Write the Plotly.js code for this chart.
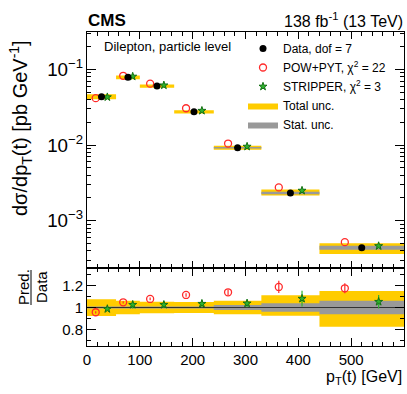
<!DOCTYPE html>
<html>
<head>
<meta charset="utf-8">
<script src="https://cdn.plot.ly/plotly-3.0.1.min.js"></script>
<style>html,body{margin:0;padding:0;background:#fff;} #chart{width:407px;height:394px;}</style>
</head>
<body>
<div id="chart"></div>
<script>
'use strict';

// bins of pT(t) in GeV
const binEdges = [0, 55, 100, 165, 240, 330, 440, 600];

// differential cross sections [pb/GeV]
const dataXsec = [0.0435, 0.0784, 0.0600, 0.0275, 0.0092, 0.00232, 0.00044];
const powXsec = [0.0416, 0.0821, 0.0646, 0.0306, 0.01046, 0.00275, 0.00052];
const stripXsec = [0.0429, 0.0804, 0.0615, 0.0284, 0.00954, 0.0025, 0.000463];

// relative uncertainties of the data
const totUp = [0.075, 0.06, 0.052, 0.05, 0.06, 0.11, 0.148];
const totDown = [0.077, 0.06, 0.052, 0.05, 0.06, 0.075, 0.173];
const statUnc = [0.008, 0.008, 0.008, 0.01, 0.022, 0.038, 0.06];

// prediction / data
const powRatio = [0.957, 1.047, 1.077, 1.113, 1.137, 1.185, 1.173];
const powRatioErr = [0.01, 0.01, 0.012, 0.015, 0.025, 0.055, 0.045];
const stripRatio = [0.987, 1.025, 1.025, 1.034, 1.037, 1.08, 1.052];
const stripRatioErr = [0.01, 0.035, 0.03, 0.035, 0.035, 0.07, 0.06];

const legendNames = ['Data, dof = 7', 'POW+PYT, \u03c7<sup>2</sup> = 22',
  'STRIPPER, \u03c7<sup>2</sup> = 3', 'Total unc.', 'Stat. unc.'];

const nb = dataXsec.length;
const centers = [], widths = [];
for (let i = 0; i < nb; i += 1) {
  centers.push((binEdges[i] + binEdges[i + 1]) / 2);
  widths.push(binEdges[i + 1] - binEdges[i]);
}
const powX = centers.map((c, i) => c - 0.2 * widths[i]);
const stripX = centers.map((c, i) => c + 0.2 * widths[i]);

// rectangles per bin, separated by gaps
function boxes(lo, hi) {
  const x = [], y = [];
  for (let i = 0; i < nb; i += 1) {
    x.push(binEdges[i], binEdges[i + 1], binEdges[i + 1], binEdges[i], binEdges[i], null);
    y.push(lo[i], lo[i], hi[i], hi[i], lo[i], null);
  }
  return {x, y};
}

const YELLOW = '#ffcc00';
const GREY = '#999999';
const RED = '#ff2a2a';
const GREEN = '#2db32d';

const totTop = boxes(dataXsec.map((d, i) => d * (1 - totDown[i])), dataXsec.map((d, i) => d * (1 + totUp[i])));
const statTop = boxes(dataXsec.map((d, i) => d * (1 - statUnc[i])), dataXsec.map((d, i) => d * (1 + statUnc[i])));
const totRat = boxes(totDown.map(v => 1 - v), totUp.map(v => 1 + v));
const statRat = boxes(statUnc.map(v => 1 - v), statUnc.map(v => 1 + v));

function band(b, color, name, rank, xa, ya, show) {
  return {
    x: b.x, y: b.y, xaxis: xa, yaxis: ya, type: 'scatter', mode: 'lines',
    fill: 'toself', fillcolor: color, line: {width: 0, color: color},
    name: name, legendrank: rank, showlegend: show, hoverinfo: 'skip'
  };
}

const redMarker = {symbol: 'circle-open', size: 7, color: RED, line: {width: 1.3, color: RED}};
const greenMarker = {symbol: 'star', size: 6, color: GREEN, line: {width: 1, color: '#137013'}};

const data = [
  band(totTop, YELLOW, legendNames[3], 4, 'x', 'y', true),
  band(statTop, GREY, legendNames[4], 5, 'x', 'y', true),
  band(totRat, YELLOW, legendNames[3], 4, 'x2', 'y2', false),
  band(statRat, GREY, legendNames[4], 5, 'x2', 'y2', false),
  {
    x: [binEdges[0], binEdges[nb]], y: [1, 1], xaxis: 'x2', yaxis: 'y2',
    type: 'scatter', mode: 'lines', line: {color: '#333333', width: 1.2},
    showlegend: false, hoverinfo: 'skip'
  },
  {
    x: powX, y: powXsec, type: 'scatter', mode: 'markers', name: legendNames[1],
    legendrank: 2, marker: redMarker
  },
  {
    x: stripX, y: stripXsec, type: 'scatter', mode: 'markers', name: legendNames[2],
    legendrank: 3, marker: greenMarker
  },
  {
    x: centers, y: dataXsec, type: 'scatter', mode: 'markers', name: legendNames[0],
    legendrank: 1, marker: {symbol: 'circle', size: 7, color: 'black'}
  },
  {
    x: powX, y: powRatio, xaxis: 'x2', yaxis: 'y2', type: 'scatter', mode: 'markers',
    error_y: {type: 'data', array: powRatioErr, color: RED, thickness: 1.2, width: 0},
    marker: redMarker, showlegend: false
  },
  {
    x: stripX, y: stripRatio, xaxis: 'x2', yaxis: 'y2', type: 'scatter', mode: 'markers',
    error_y: {type: 'data', array: stripRatioErr, color: GREEN, thickness: 1.2, width: 0},
    marker: greenMarker, showlegend: false
  }
];

// pixel -> paper helpers (plot area 87..404 x 32..346)
const X = px => (px - 87) / 317;
const Y = py => (346 - py) / 314;
const split = Y(268);

const axisBase = {
  showline: true, linecolor: 'black', linewidth: 1, mirror: 'ticks',
  ticks: 'inside', tickcolor: 'black', showgrid: false, zeroline: false
};

const layout = {
  width: 407, height: 394,
  margin: {l: 87, r: 3, t: 32, b: 48},
  paper_bgcolor: 'white', plot_bgcolor: 'white',
  font: {family: 'Liberation Sans, Arial, sans-serif', size: 15, color: 'black'},
  showlegend: true,
  legend: {
    x: X(243), y: Y(34), xanchor: 'left', yanchor: 'top',
    bgcolor: 'rgba(0,0,0,0)', font: {size: 12}, tracegroupgap: 0
  },
  xaxis: Object.assign({}, axisBase, {
    anchor: 'y', domain: [0, 1], range: [0, 600], matches: 'x2',
    showticklabels: false, dtick: 100, ticklen: 7,
    minor: {dtick: 20, ticks: 'inside', ticklen: 4, tickcolor: 'black'}
  }),
  yaxis: Object.assign({}, axisBase, {
    anchor: 'x', domain: [split, 1], type: 'log', range: [-3.625, -0.507],
    dtick: 1, exponentformat: 'power', ticklen: 9,
    minor: {dtick: 'D1', ticks: 'inside', ticklen: 4, tickcolor: 'black'}
  }),
  xaxis2: Object.assign({}, axisBase, {
    anchor: 'y2', domain: [0, 1], range: [0, 600], dtick: 100, ticklen: 8,
    minor: {dtick: 20, ticks: 'inside', ticklen: 4, tickcolor: 'black'}
  }),
  yaxis2: Object.assign({}, axisBase, {
    anchor: 'x2', domain: [0, split], range: [0.653, 1.356],
    tick0: 0, dtick: 0.2, ticklen: 9,
    minor: {dtick: 0.1, ticks: 'inside', ticklen: 4, tickcolor: 'black'}
  }),
  annotations: [
    {text: '<b>CMS</b>', xref: 'paper', yref: 'paper', x: X(86), y: Y(20), xanchor: 'left', yanchor: 'middle',
      showarrow: false, font: {size: 17}},
    {text: '138 fb<sup>-1</sup> (13 TeV)', xref: 'paper', yref: 'paper', x: X(405), y: Y(20), xanchor: 'right',
      yanchor: 'middle', showarrow: false, font: {size: 16}},
    {text: 'Dilepton, particle level', xref: 'paper', yref: 'paper', x: X(102), y: Y(46), xanchor: 'left',
      yanchor: 'middle', showarrow: false, font: {size: 13}},
    {text: 'd\u03c3/dp<sub>T</sub>(t) [pb GeV<sup>-1</sup>]', xref: 'paper', yref: 'paper', x: X(20), y: Y(128),
      xanchor: 'center', yanchor: 'middle', textangle: -90, showarrow: false, font: {size: 20}},
    {text: 'Pred.', xref: 'paper', yref: 'paper', x: X(23), y: Y(287), xanchor: 'center', yanchor: 'middle',
      textangle: -90, showarrow: false, font: {size: 15}},
    {text: 'Data', xref: 'paper', yref: 'paper', x: X(41), y: Y(287), xanchor: 'center', yanchor: 'middle',
      textangle: -90, showarrow: false, font: {size: 15}},
    {text: 'p<sub>T</sub>(t) [GeV]', xref: 'paper', yref: 'paper', x: X(404), y: Y(377), xanchor: 'right',
      yanchor: 'middle', showarrow: false, font: {size: 16}}
  ],
  shapes: [
    {type: 'line', xref: 'paper', yref: 'paper', x0: X(31), x1: X(31), y0: Y(270), y1: Y(305),
      line: {color: 'black', width: 1}}
  ]
};

Plotly.newPlot('chart', data, layout, {displayModeBar: false, staticPlot: true});
</script>
</body>
</html>
